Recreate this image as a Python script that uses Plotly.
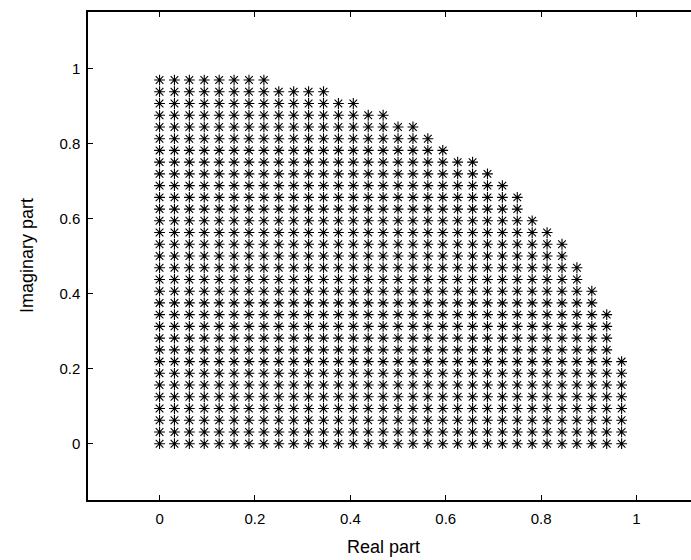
import plotly.graph_objects as go

# Grid step (points at k/32)
step = 1 / 32
# Number of points in each row, bottom row (y=0) to top row (y=31/32)
row_counts = [32, 32, 32, 32, 32, 32, 32, 32, 31, 31, 31, 31, 30, 30, 29, 29,
              28, 28, 27, 26, 25, 25, 24, 23, 22, 20, 19, 18, 16, 14, 12, 8]

x_tick_vals = [0, 0.2, 0.4, 0.6, 0.8, 1]
x_tick_text = ["0", "0.2", "0.4", "0.6", "0.8", "1"]
y_tick_vals = [0, 0.2, 0.4, 0.6, 0.8, 1]
y_tick_text = ["0", "0.2", "0.4", "0.6", "0.8", "1"]

xs, ys = [], []
for j, n in enumerate(row_counts):
    for k in range(n):
        xs.append(k * step)
        ys.append(j * step)

fig = go.Figure()
fig.add_trace(go.Scatter(
    x=xs, y=ys, mode="markers",
    marker=dict(symbol="asterisk-open", size=9, color="black",
                line=dict(color="black", width=1.1)),
    showlegend=False, hoverinfo="skip",
))

font = "Liberation Sans, Arial, Helvetica, sans-serif"
fig.update_layout(
    width=691, height=560,
    margin=dict(l=88, r=0, t=12, b=60),
    paper_bgcolor="white", plot_bgcolor="white",
    font=dict(family=font, size=15, color="black"),
    xaxis=dict(range=[-0.15, 1.1142], tickvals=x_tick_vals, ticktext=x_tick_text,
               showgrid=False, zeroline=False, showline=True, linecolor="black",
               linewidth=1.5, mirror="ticks", ticks="inside", ticklen=5,
               tickcolor="black", tickfont=dict(size=15), ticklabelstandoff=4),
    yaxis=dict(range=[-0.15, 1.15], tickvals=y_tick_vals, ticktext=y_tick_text,
               showgrid=False, zeroline=False, showline=True, linecolor="black",
               linewidth=1.5, ticks="inside", ticklen=5, tickcolor="black",
               tickfont=dict(size=15), ticklabelstandoff=3),
    annotations=[
        dict(text="Real part", xref="paper", yref="paper", x=(383 - 88) / 603, y=0,
             yshift=-47, showarrow=False, font=dict(size=18), xanchor="center",
             yanchor="middle"),
        dict(text="Imaginary part", xref="paper", yref="paper", x=0, xshift=-61,
             y=0.5, showarrow=False, font=dict(size=18), textangle=-90,
             xanchor="center", yanchor="middle"),
    ],
)

fig.write_html("out.html", config={"displayModeBar": False},
               post_script="document.body.style.margin='0';document.body.style.overflow='hidden';")
